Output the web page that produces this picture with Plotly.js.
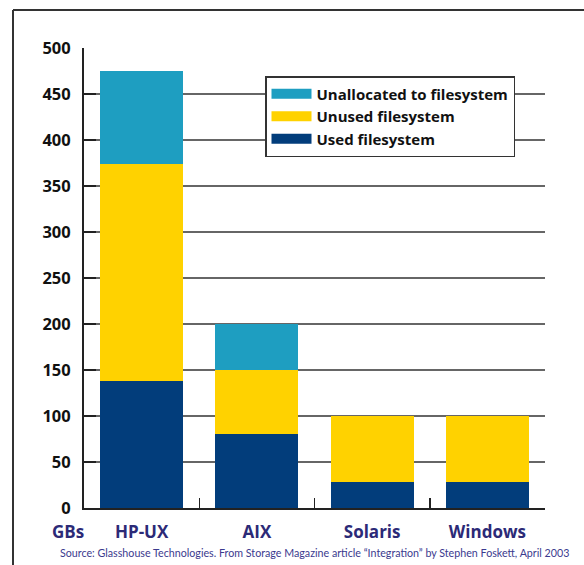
<!DOCTYPE html>
<html>
<head>
<meta charset="utf-8">
<script src="https://cdn.plot.ly/plotly-3.0.1.min.js"></script>
<style>
html,body{margin:0;padding:0;background:#fff;}
#chart{width:584px;height:565px;}
</style>
</head>
<body>
<div id="chart"></div>
<script>
const categories = ["HP-UX", "AIX", "Solaris", "Windows"];
const usedFilesystem = [138, 80, 28, 28];
const unusedFilesystem = [236, 70, 72, 72];
const unallocated = [101, 50, 0, 0];
const seriesNames = ["Used filesystem", "Unused filesystem", "Unallocated to filesystem"];
const yTicks = [0, 50, 100, 150, 200, 250, 300, 350, 400, 450, 500];
const unitLabel = "GBs";
const sourceText = "Source: Glasshouse Technologies. From Storage Magazine article \u201cIntegration\u201d by Stephen Foskett, April 2003";

const colors = ["#023d7b", "#ffd200", "#1e9ec1"];
const FONT = "'Open Sans', Lato, sans-serif";
const FONT2 = "Lato, 'Open Sans', sans-serif";

const barTraces = [usedFilesystem, unusedFilesystem, unallocated].map((vals, i) => ({
  type: "bar",
  name: seriesNames[i],
  x: categories,
  y: vals,
  legendgroup: "g" + i,
  showlegend: false,
  marker: {color: colors[i], line: {width: 0}},
  hoverinfo: "x+y+name"
}));
// legend-only entries (wide colour swatches like the original key)
const keyTraces = seriesNames.map((name, i) => ({
  type: "scatter",
  mode: "lines",
  name: name,
  x: [null], y: [null],
  legendgroup: "g" + i,
  showlegend: true,
  line: {color: colors[i], width: 13},
  hoverinfo: "skip"
}));
const traces = barTraces.concat(keyTraces);

// plot area geometry (px) used to place frame lines in paper units
const L = 84, R = 39, T = 48, B = 57, W = 584, H = 565;
const pw = W - L - R, ph = H - T - B;
const px = v => (v - L) / pw;
const py = v => (H - B - v) / ph;

const layout = {
  width: W, height: H,
  margin: {l: L, r: R, t: T, b: B, pad: 0},
  paper_bgcolor: "#fff",
  plot_bgcolor: "#fff",
  barmode: "stack",
  bargap: 0.28,
  showlegend: true,
  legend: {
    x: px(265), y: py(76), xanchor: "left", yanchor: "top",
    bgcolor: "#fff", bordercolor: "#333", borderwidth: 1.5,
    traceorder: "reversed",
    itemwidth: 40,
    font: {family: FONT, size: 15, color: "#111", weight: "bold"},
    itemclick: false
  },
  xaxis: {
    type: "category",
    range: [-0.5, 3.5],
    showline: true, linecolor: "#222", linewidth: 2,
    ticks: "inside", tickson: "boundaries", ticklen: 10, tickwidth: 1.5, tickcolor: "#222",
    showgrid: false, zeroline: false,
    tickfont: {family: FONT, size: 17, color: "#2c2a77", weight: "bold"},
    ticklabelstandoff: 8,
    fixedrange: true
  },
  yaxis: {
    range: [0, 500],
    tickvals: yTicks,
    ticktext: yTicks.map(String),
    showline: true, linecolor: "#222", linewidth: 2,
    ticks: "inside", ticklen: 12, tickwidth: 2, tickcolor: "#222",
    showgrid: true, gridcolor: "#666", gridwidth: 1.3,
    zeroline: false,
    tickfont: {family: FONT, size: 16.5, color: "#111", weight: "bold"},
    ticklabelstandoff: 8,
    fixedrange: true
  },
  shapes: [
    {type: "line", xref: "paper", yref: "paper", x0: px(13), x1: px(600), y0: py(10), y1: py(10), line: {color: "#333", width: 2}},
    {type: "line", xref: "paper", yref: "paper", x0: px(13), x1: px(13), y0: py(10), y1: py(580), line: {color: "#333", width: 2}}
  ],
  annotations: [
    {xref: "paper", yref: "paper", x: px(68), y: py(531), xanchor: "center", yanchor: "middle",
     text: unitLabel, showarrow: false, font: {family: FONT, size: 17, color: "#2c2a77", weight: "bold"}},
    {xref: "paper", yref: "paper", x: px(314), y: py(552), xanchor: "center", yanchor: "middle",
     text: sourceText, showarrow: false, font: {family: FONT2, size: 10.7, color: "#3b3a8e"}}
  ]
};

Plotly.newPlot("chart", traces, layout, {displayModeBar: false, staticPlot: true});
</script>
</body>
</html>
